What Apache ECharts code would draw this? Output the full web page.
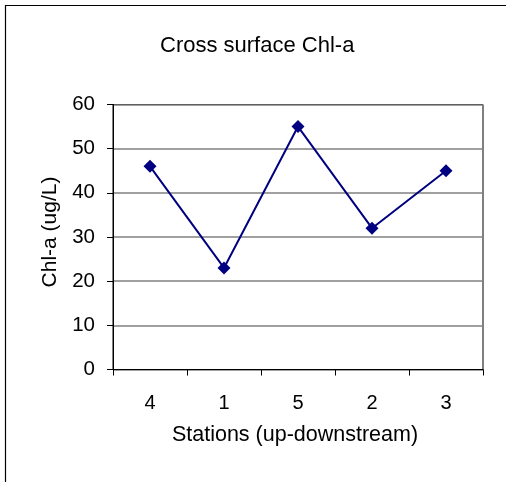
<!DOCTYPE html>
<html>
<head>
<meta charset="utf-8">
<script src="https://cdn.jsdelivr.net/npm/echarts@6/dist/echarts.min.js"></script>
<style>
html,body{margin:0;padding:0;background:#fff;}
#chart{width:506px;height:482px;}
</style>
</head>
<body>
<div id="chart"></div>
<script>
const titleText = "Cross surface Chl-a";
const stations = ["4", "1", "5", "2", "3"];
const chlA = [46, 23, 55, 32, 45];
const xName = "Stations (up-downstream)";
const yName = "Chl-a (ug/L)";

const chart = echarts.init(document.getElementById('chart'), null, {renderer: 'canvas'});
const font = 'Liberation Sans, Arial, sans-serif';
chart.setOption({
  animation: false,
  backgroundColor: '#fff',
  title: {
    text: titleText, left: 155, top: 30,
    textStyle: {fontFamily: font, fontSize: 22, fontWeight: 'normal', color: '#000'}
  },
  graphic: [{
    type: 'rect', x: 0, y: 0, silent: true,
    shape: {x: 5.5, y: 5.5, width: 700, height: 700},
    style: {fill: 'none', stroke: '#000', lineWidth: 1.2}
  }],
  grid: {
    left: 113, right: 23, top: 104.5, bottom: 112.5,
    show: true, borderColor: '#000', borderWidth: 1, backgroundColor: 'transparent'
  },
  xAxis: {
    type: 'category', data: stations, boundaryGap: true,
    name: xName, nameLocation: 'middle', nameGap: 55,
    nameTextStyle: {fontFamily: font, fontSize: 21.5, color: '#000', padding: [0, 6, 0, 0]},
    axisLine: {lineStyle: {color: '#000', width: 1}},
    axisTick: {show: true, length: 6, inside: false, lineStyle: {color: '#000'}},
    axisLabel: {fontFamily: font, fontSize: 20, color: '#000', margin: 24},
    splitLine: {show: false}
  },
  yAxis: {
    type: 'value', min: 0, max: 60, interval: 10,
    name: yName, nameLocation: 'middle', nameGap: 52, nameRotate: 90,
    nameTextStyle: {fontFamily: font, fontSize: 21, color: '#000', padding: [0, 0, 0, 10]},
    axisLine: {show: true, lineStyle: {color: '#000', width: 1}},
    axisTick: {show: true, length: 6, lineStyle: {color: '#000'}},
    axisLabel: {fontFamily: font, fontSize: 20.5, color: '#000', margin: 18},
    splitLine: {show: true, lineStyle: {color: '#808080', width: 1.5}}
  },
  series: [{
    type: 'line', data: chlA,
    symbol: 'diamond', symbolSize: 13,
    lineStyle: {color: '#000080', width: 2},
    itemStyle: {color: '#000080'}
  }]
});
</script>
</body>
</html>
